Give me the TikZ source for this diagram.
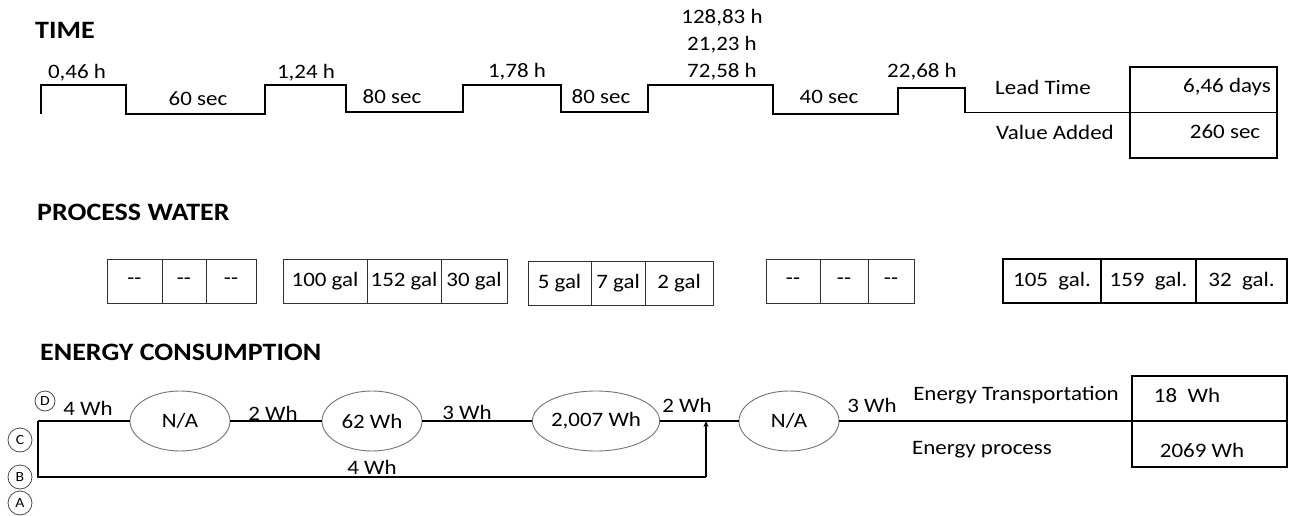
\documentclass[tikz,border=0pt]{standalone}
\usepackage{fontspec}
\setmainfont{Carlito}[FakeStretch=1.12]
\usetikzlibrary{shapes.geometric,arrows.meta}
\begin{document}
\begin{tikzpicture}[x=1pt,y=-1pt,
  txt/.style={font=\fontsize{20.5}{22}\selectfont, inner sep=0pt},
  hdr/.style={font=\fontsize{25}{28}\selectfont\bfseries, inner sep=0pt, anchor=west},
  stepline/.style={line width=1.6pt, line join=miter},
  cell/.style={draw=black!80, line width=0.9pt, minimum height=44pt, inner sep=0pt, font=\fontsize{20.5}{22}\selectfont},
  bcell/.style={cell, draw=black, line width=2pt},
  sumbox/.style={draw, line width=1.4pt, minimum width=147pt, inner sep=0pt},
  proc/.style={ellipse, draw=black!55, line width=0.9pt, minimum width=100pt, minimum height=60pt, inner sep=0pt, font=\fontsize{20.5}{22}\selectfont},
  letter/.style={circle, draw=black!70, line width=0.8pt, minimum size=24pt, inner sep=0pt, font=\fontsize{14}{15}\selectfont},
  mainline/.style={line width=1.3pt},
  loopline/.style={line width=1.8pt}
]
\useasboundingbox (0,0) rectangle (1289,516);

% ---------------- TIME ----------------
\node[hdr] (hTime) at (35,30) {TIME};
\node[sumbox, minimum height=91pt] (ltbox) at (1203.5,112.5) {};
\draw[stepline] (41,114) -- (41,85) -- (126,85) -- (126,114) -- (265,114) -- (265,85)
  -- (346,85) -- (346,112) -- (463,112) -- (463,85) -- (561,85) -- (561,112)
  -- (648,112) -- (648,85) -- (773,85) -- (773,114) -- (898,114) -- (898,88)
  -- (965,88) -- (965,112.5) -- (ltbox.east);
\node[txt] (t1) at (77,73) {0,46 h};
\node[txt] (t2) at (198,99) {60 sec};
\node[txt] (t3) at (306,73) {1,24 h};
\node[txt] (t4) at (392,97) {80 sec};
\node[txt] (t5) at (517,72) {1,78 h};
\node[txt] (t6) at (601,97) {80 sec};
\node[txt] (t7) at (722,18) {128,83 h};
\node[txt] (t8) at (722,45) {21,23 h};
\node[txt] (t9) at (722,72) {72,58 h};
\node[txt] (t10) at (829,97) {40 sec};
\node[txt] (t11) at (922,72) {22,68 h};
\node[txt] (lt) at (1043,87) {Lead Time};
\node[txt] (va) at (1055,132) {Value Added};
\node[txt] (ltv) at (1227,87) {6,46 days};
\node[txt] (vav) at (1225,132) {260 sec};

% ---------------- PROCESS WATER ----------------
\node[hdr] (hWater) at (37,212) {PROCESS WATER};
\node[cell, minimum width=55pt] (g1a) at (134.5,281) {-{}-};
\node[cell, minimum width=44pt] (g1b) at (184,281) {-{}-};
\node[cell, minimum width=50pt] (g1c) at (231,281) {-{}-};
\node[cell, minimum width=84pt] (g2a) at (325,281) {100 gal};
\node[cell, minimum width=74pt] (g2b) at (404,281) {152 gal};
\node[cell, minimum width=66pt] (g2c) at (474,281) {30 gal};
\node[cell, minimum width=63pt] (g3a) at (559.5,283) {5 gal};
\node[cell, minimum width=54pt] (g3b) at (618,283) {7 gal};
\node[cell, minimum width=68pt] (g3c) at (679,283) {2 gal};
\node[cell, minimum width=54pt] (g4a) at (793,281) {-{}-};
\node[cell, minimum width=48pt] (g4b) at (844,281) {-{}-};
\node[cell, minimum width=46pt] (g4c) at (891,281) {-{}-};
\node[bcell, minimum width=98pt] (g5a) at (1052,281) {105~ gal.};
\node[bcell, minimum width=95pt] (g5b) at (1148.5,281) {159~ gal.};
\node[bcell, minimum width=91pt] (g5c) at (1241.5,281) {32~ gal.};

% ---------------- ENERGY ----------------
\node[hdr] (hEnergy) at (40,352) {ENERGY CONSUMPTION};
\node[proc] (e1) at (180,421) {N/A};
\node[proc] (e2) at (372,421) {62 Wh};
\node[proc] (e3) at (596,421) {2,007 Wh};
\node[proc] (e4) at (789,421) {N/A};
\node[sumbox, minimum width=155pt, minimum height=91pt] (ebox) at (1209.5,421.5) {};

\coordinate (tl) at (38,421);
\coordinate (bl) at (38,477);
\coordinate (br) at (706,477);
\coordinate (jn) at (706,421);

\draw[mainline] (tl) -- (e1.west);
\draw[mainline] (e1.east) -- (e2.west);
\draw[mainline] (e2.east) -- (e3.west);
\draw[mainline] (e3.east) -- (e4.west);
\draw[mainline] (e4.east) -- (ebox.east |- e4.east);
\draw[loopline] (tl) -- (bl) -- (br);
\draw[loopline, -{Stealth[length=6pt,width=5pt]}] (br) -- (jn);

\node[letter, minimum size=20pt] (lD) at (45,401) {D};
\node[letter] (lC) at (20,440) {C};
\node[letter] (lB) at (20,477) {B};
\node[letter] (lA) at (20,503) {A};

\node[txt] (w1) at (88,408) {4 Wh};
\node[txt] (w2) at (273,413) {2 Wh};
\node[txt] (w3) at (467,412) {3 Wh};
\node[txt] (w4) at (687,405) {2 Wh};
\node[txt] (w5) at (872,405) {3 Wh};
\node[txt] (w6) at (372,467) {4 Wh};
\node[txt] (et) at (1016,395) {Energy Transportation};
\node[txt] (ep) at (982,450) {Energy process};
\node[txt] (etv) at (1187,395) {18~ Wh};
\node[txt] (epv) at (1202,450) {2069 Wh};
\end{tikzpicture}
\end{document}
